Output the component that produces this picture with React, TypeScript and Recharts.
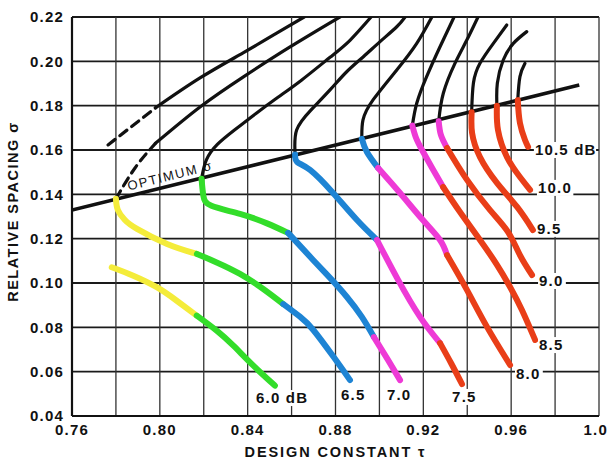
import React from 'react';
import { ComposedChart, Line, Scatter, XAxis, YAxis, CartesianGrid } from 'recharts';

type P = [number, number]; // [tau, sigma]

// ---------- axes ----------
const tauTicks = [0.76, 0.78, 0.8, 0.82, 0.84, 0.86, 0.88, 0.9, 0.92, 0.94, 0.96, 0.98, 1.0];
const tauTickLabels = ['0.76', '', '0.80', '', '0.84', '', '0.88', '', '0.92', '', '0.96', '', '1.0'];
const sigmaTicks = [0.04, 0.06, 0.08, 0.1, 0.12, 0.14, 0.16, 0.18, 0.2, 0.22];
const sigmaTickLabels = ['0.04', '0.06', '0.08', '0.10', '0.12', '0.14', '0.16', '0.18', '0.20', '0.22'];

// ---------- optimum sigma line ----------
const optimumSigma: P[] = [[0.76, 0.1329], [0.991, 0.1893]];

// ---------- gain contours, part below the optimum line ----------
const lower60: P[] = [[0.7781, 0.1071], [0.7879, 0.1033], [0.7986, 0.0981], [0.8077, 0.092], [0.8168, 0.0853], [0.8259, 0.0785], [0.8335, 0.0717], [0.8426, 0.0627], [0.8524, 0.0537]];
const lower65: P[] = [[0.78, 0.138], [0.7809, 0.1329], [0.7841, 0.1284], [0.7896, 0.1244], [0.8033, 0.1176], [0.8169, 0.1131], [0.8259, 0.1093], [0.8365, 0.1041], [0.8471, 0.0973], [0.8562, 0.0905], [0.8638, 0.0848], [0.8699, 0.0788], [0.879, 0.0668], [0.8866, 0.0562]];
const lower70: P[] = [[0.819, 0.147], [0.8198, 0.1395], [0.8235, 0.1348], [0.8365, 0.1312], [0.8488, 0.1269], [0.8584, 0.1226], [0.8698, 0.1104], [0.8775, 0.1023], [0.8852, 0.0937], [0.892, 0.0847], [0.8975, 0.0756], [0.9039, 0.0653], [0.9094, 0.0562]];
const lower75: P[] = [[0.8616, 0.158], [0.8625, 0.1546], [0.8684, 0.151], [0.8789, 0.1406], [0.8898, 0.1284], [0.8989, 0.1194], [0.9085, 0.1014], [0.9185, 0.0847], [0.9276, 0.0729], [0.9326, 0.0639], [0.9376, 0.0544]];
const lower80: P[] = [[0.892, 0.165], [0.8943, 0.1591], [0.8994, 0.1519], [0.9094, 0.1406], [0.9198, 0.1284], [0.9276, 0.1194], [0.9308, 0.1126], [0.9399, 0.0968], [0.949, 0.0802], [0.9595, 0.063]];
const lower85: P[] = [[0.915, 0.171], [0.9167, 0.1654], [0.9194, 0.16], [0.924, 0.1519], [0.929, 0.1433], [0.9367, 0.132], [0.9458, 0.1194], [0.9536, 0.1081], [0.9595, 0.0982], [0.9649, 0.0878], [0.9709, 0.0743]];
const lower90: P[] = [[0.927, 0.173], [0.928, 0.1668], [0.9308, 0.1609], [0.9399, 0.1465], [0.9504, 0.1329], [0.9586, 0.123], [0.964, 0.1126], [0.9695, 0.1036]];
const lower95: P[] = [[0.942, 0.177], [0.9422, 0.1677], [0.9458, 0.1568], [0.9536, 0.1451], [0.9627, 0.1343], [0.9699, 0.1239]];
const lower100: P[] = [[0.9535, 0.18], [0.954, 0.169], [0.9581, 0.1568], [0.964, 0.1478], [0.9686, 0.142]];
const lower105: P[] = [[0.963, 0.1825], [0.964, 0.1722], [0.9663, 0.1645], [0.9677, 0.1614]];

// ---------- gain contours, part above the optimum line ----------
const upper60Dashed: P[] = [[0.7764, 0.1623], [0.798, 0.179]];
const upper60: P[] = [[0.798, 0.179], [0.8183, 0.1925], [0.8379, 0.2038], [0.8534, 0.2128], [0.8657, 0.22]];
const upper65Dashed: P[] = [[0.78, 0.138], [0.7887, 0.1519], [0.798, 0.163]];
const upper65: P[] = [[0.798, 0.163], [0.8183, 0.1794], [0.8379, 0.1929], [0.8593, 0.2065], [0.882, 0.22]];
const upper70: P[] = [[0.819, 0.147], [0.8212, 0.1555], [0.8262, 0.1625], [0.834, 0.169], [0.8438, 0.1765], [0.8538, 0.1838], [0.8645, 0.1915], [0.8775, 0.2018], [0.8866, 0.2095], [0.8962, 0.22]];
const upper75: P[] = [[0.8616, 0.158], [0.8623, 0.169], [0.8688, 0.178], [0.8775, 0.1871], [0.8851, 0.1953], [0.8927, 0.2021], [0.9003, 0.2089], [0.9079, 0.2156], [0.9117, 0.22]];
const upper80: P[] = [[0.892, 0.165], [0.8925, 0.1735], [0.8971, 0.1826], [0.9079, 0.1961], [0.917, 0.2081], [0.9239, 0.22]];
const upper85: P[] = [[0.915, 0.171], [0.917, 0.1811], [0.9215, 0.1931], [0.9276, 0.2066], [0.934, 0.22]];
const upper90: P[] = [[0.927, 0.173], [0.9291, 0.1856], [0.9344, 0.1991], [0.9398, 0.2096], [0.9449, 0.22]];
const upper95: P[] = [[0.942, 0.177], [0.9428, 0.1901], [0.9458, 0.1991], [0.9519, 0.2081], [0.958, 0.2164]];
const upper100: P[] = [[0.9535, 0.18], [0.9537, 0.1901], [0.9564, 0.2006], [0.961, 0.2081], [0.9671, 0.2134]];
const upper105: P[] = [[0.963, 0.1825], [0.964, 0.1931], [0.9663, 0.1991]];

// ---------- text annotations ----------
const gainLabels = ['6.0 dB', '6.5', '7.0', '7.5', '8.0', '8.5', '9.0', '9.5', '10.0', '10.5 dB'];
const gainLabelTau = [0.8438, 0.8825, 0.9034, 0.9331, 0.9622, 0.9727, 0.9727, 0.9718, 0.9722, 0.9708];
const gainLabelSigma = [0.0481, 0.0495, 0.0495, 0.0486, 0.059, 0.072, 0.1009, 0.1244, 0.1429, 0.16];
const optimumLabel = 'OPTIMUM σ';
const optimumLabelAt: P = [0.8046, 0.1485];

// ---------- styles ----------
const YELLOW = '#f4ec3a';
const GREEN = '#33dd2a';
const BLUE = '#1e84d4';
const MAGENTA = '#ee3ad6';
const RED = '#e93e18';
const INK = '#111111';
const FONT = '"Liberation Sans", Arial, Helvetica, sans-serif';

const lowerSegments: { curve: P[]; from: number; to: number; color: string }[] = [
  { curve: lower60, from: 0, to: 4, color: YELLOW },
  { curve: lower60, from: 4, to: 8, color: GREEN },
  { curve: lower65, from: 0, to: 5, color: YELLOW },
  { curve: lower65, from: 5, to: 9, color: GREEN },
  { curve: lower65, from: 9, to: 13, color: BLUE },
  { curve: lower70, from: 0, to: 5, color: GREEN },
  { curve: lower70, from: 5, to: 10, color: BLUE },
  { curve: lower70, from: 10, to: 12, color: MAGENTA },
  { curve: lower75, from: 0, to: 5, color: BLUE },
  { curve: lower75, from: 5, to: 8, color: MAGENTA },
  { curve: lower75, from: 8, to: 10, color: RED },
  { curve: lower80, from: 0, to: 2, color: BLUE },
  { curve: lower80, from: 2, to: 6, color: MAGENTA },
  { curve: lower80, from: 6, to: 9, color: RED },
  { curve: lower85, from: 0, to: 4, color: MAGENTA },
  { curve: lower85, from: 4, to: 10, color: RED },
  { curve: lower90, from: 0, to: 2, color: MAGENTA },
  { curve: lower90, from: 2, to: 7, color: RED },
  { curve: lower95, from: 0, to: 5, color: RED },
  { curve: lower100, from: 0, to: 4, color: RED },
  { curve: lower105, from: 0, to: 3, color: RED },
];

const upperCurves: { curve: P[]; dashed: boolean }[] = [
  { curve: upper60Dashed, dashed: true },
  { curve: upper60, dashed: false },
  { curve: upper65Dashed, dashed: true },
  { curve: upper65, dashed: false },
  { curve: upper70, dashed: false },
  { curve: upper75, dashed: false },
  { curve: upper80, dashed: false },
  { curve: upper85, dashed: false },
  { curve: upper90, dashed: false },
  { curve: upper95, dashed: false },
  { curve: upper100, dashed: false },
  { curve: upper105, dashed: false },
];

const rows = (pts: P[]) => pts.map(([x, y]) => ({ x, y }));

const labelRows = gainLabels.map((text, i) => ({ x: gainLabelTau[i], y: gainLabelSigma[i], text }));
const optimumRows = [{ x: optimumLabelAt[0], y: optimumLabelAt[1], text: optimumLabel }];

const findIdx = (arr: number[], v: number) => arr.findIndex((t) => Math.abs(t - v) < 1e-6);

const tickText: React.CSSProperties = { fontFamily: FONT, fontSize: 15, fontWeight: 700, fill: INK, letterSpacing: 1.2 };

const XTick = (props: any) => {
  const { x, y, payload } = props;
  const i = findIdx(tauTicks, payload.value);
  const t = i >= 0 ? tauTickLabels[i] : '';
  const last = i === tauTicks.length - 1;
  return (
    <text x={last ? x + 9 : x} y={y} dy="0.71em" textAnchor={last ? 'end' : 'middle'} style={tickText}>
      {t}
    </text>
  );
};

const YTick = (props: any) => {
  const { x, y, payload } = props;
  const i = findIdx(sigmaTicks, payload.value);
  const t = i >= 0 ? sigmaTickLabels[i] : '';
  return (
    <text x={x} y={y} dy="0.36em" textAnchor="end" style={tickText}>
      {t}
    </text>
  );
};

const GainLabel = (props: any) => {
  const { cx, cy, payload } = props;
  const w = payload.text.length * 8.6 + 2;
  return (
    <g>
      <rect x={cx - 1} y={cy - 8} width={w} height={16} fill="#ffffff" />
      <text x={cx} y={cy} dy="0.36em" textAnchor="start" style={tickText}>
        {payload.text}
      </text>
    </g>
  );
};

const OptimumText = (props: any) => {
  const { cx, cy, payload } = props;
  return (
    <text
      x={cx}
      y={cy}
      dy="0.36em"
      textAnchor="middle"
      transform={`rotate(-14, ${cx}, ${cy})`}
      style={{ fontFamily: FONT, fontSize: 13, fontWeight: 400, fill: INK, letterSpacing: 1.6 }}
    >
      {payload.text}
    </text>
  );
};

const XTitle = (props: any) => {
  const vb = props.viewBox || { x: 72, y: 416, width: 527, height: 52 };
  return (
    <text
      x={vb.x + vb.width / 2}
      y={vb.y + vb.height - 11}
      textAnchor="middle"
      style={{ ...tickText, fontSize: 14.5, letterSpacing: 1.9 }}
    >
      DESIGN CONSTANT τ
    </text>
  );
};

const YTitle = (props: any) => {
  const vb = props.viewBox || { x: 0, y: 17, width: 72, height: 399 };
  const cx = vb.x + 13;
  const cy = vb.y + vb.height / 2 - 5;
  return (
    <text
      x={cx}
      y={cy}
      dy="0.36em"
      textAnchor="middle"
      transform={`rotate(-90, ${cx}, ${cy})`}
      style={{ ...tickText, fontSize: 14.5, letterSpacing: 1.5 }}
    >
      RELATIVE SPACING σ
    </text>
  );
};

export default function App() {
  return (
    <div style={{ position: 'absolute', left: 0, top: 0, width: 609, height: 468, background: '#ffffff' }}>
      <ComposedChart width={609} height={468} margin={{ top: 17, right: 10, left: 0, bottom: 0 }}>
        <CartesianGrid horizontal={true} vertical={false} stroke="#1a1a1a" strokeWidth={1.9} />
        <CartesianGrid horizontal={false} vertical={true} stroke="#333333" strokeWidth={1.3} />
        <XAxis
          type="number"
          dataKey="x"
          domain={[0.76, 1.0]}
          ticks={tauTicks}
          allowDataOverflow
          tickLine={false}
          axisLine={{ stroke: INK, strokeWidth: 2.2 }}
          tick={<XTick />}
          height={52}
          label={XTitle}
          interval={0}
        />
        <YAxis
          type="number"
          dataKey="y"
          domain={[0.04, 0.22]}
          ticks={sigmaTicks}
          allowDataOverflow
          tickLine={false}
          axisLine={{ stroke: INK, strokeWidth: 2.2 }}
          tick={<YTick />}
          width={72}
          label={YTitle}
          interval={0}
        />
        {upperCurves.map((u, i) => (
          <Line
            key={`u${i}`}
            data={rows(u.curve)}
            dataKey="y"
            type="natural"
            stroke={INK}
            strokeWidth={3.2}
            strokeDasharray={u.dashed ? '9 6' : undefined}
            dot={false}
            activeDot={false}
            isAnimationActive={false}
            strokeLinecap="round"
          />
        ))}
        <Line
          data={rows(optimumSigma)}
          dataKey="y"
          type="linear"
          stroke={INK}
          strokeWidth={3.6}
          dot={false}
          activeDot={false}
          isAnimationActive={false}
        />
        {lowerSegments.map((s, i) => (
          <Line
            key={`l${i}`}
            data={rows(s.curve.slice(s.from, s.to + 1))}
            dataKey="y"
            type="natural"
            stroke={s.color}
            strokeWidth={6}
            strokeLinecap="round"
            strokeLinejoin="round"
            dot={false}
            activeDot={false}
            isAnimationActive={false}
          />
        ))}
        <Scatter data={labelRows} dataKey="y" shape={GainLabel} isAnimationActive={false} />
        <Scatter data={optimumRows} dataKey="y" shape={OptimumText} isAnimationActive={false} />
      </ComposedChart>
    </div>
  );
}
